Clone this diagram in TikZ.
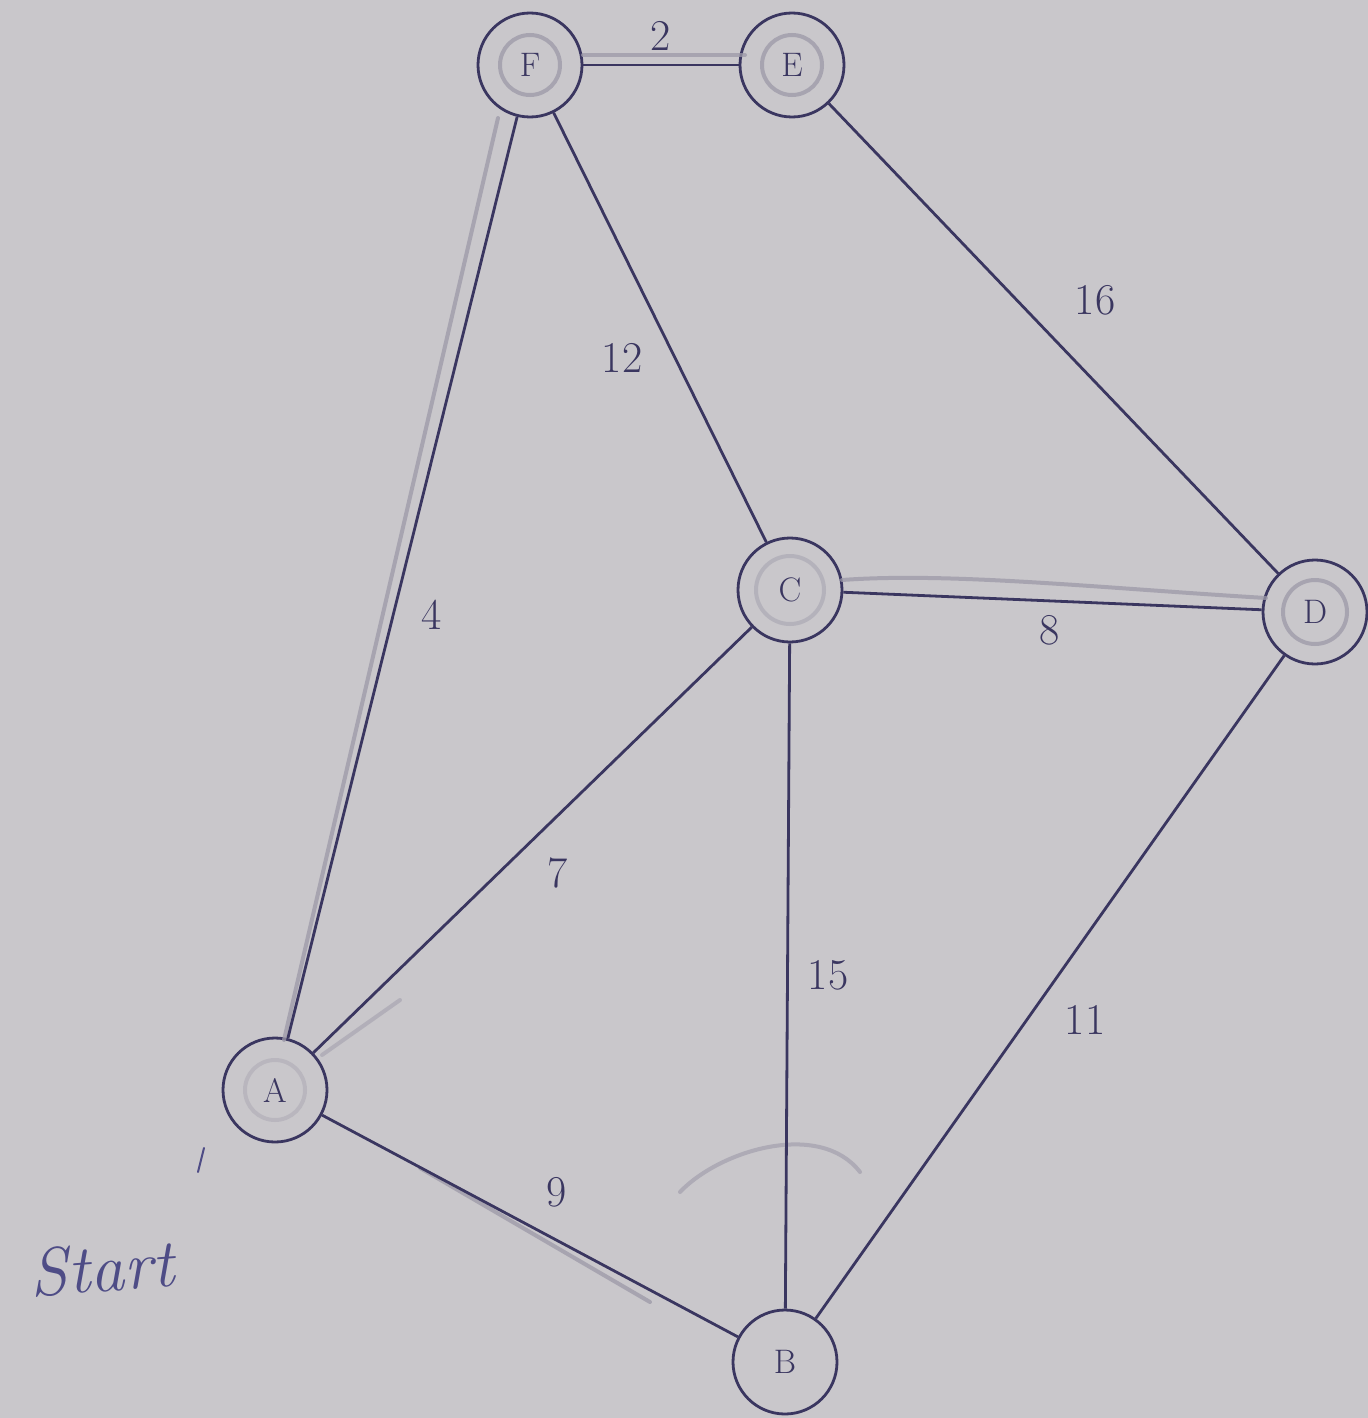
\documentclass[tikz,border=0pt]{standalone}
\usepackage{fontspec}
\begin{document}
\begin{tikzpicture}[x=0.5pt,y=-0.5pt,
  ink/.style={draw=inkc,line width=1.4pt},
  vertex/.style={circle,draw=inkc,line width=1.4pt,minimum size=52pt,inner sep=0pt,font=\fontsize{17}{20}\selectfont,text=inkc},
  wlabel/.style={font=\fontsize{22}{26}\selectfont,text=inkc},
  pencil/.style={draw=pencilc,line width=2pt,line cap=round,draw opacity=0.75},
]
\definecolor{bgc}{HTML}{C9C7CB}
\definecolor{inkc}{HTML}{3A3660}
\definecolor{pencilc}{HTML}{9C99A8}
\definecolor{penc}{HTML}{4E4C86}
\fill[bgc] (0,0) rectangle (1368,1418);
\useasboundingbox (0,0) rectangle (1368,1418);

% nodes
\node[vertex] (F) at (530,65) {F};
\node[vertex] (E) at (792,65) {E};
\node[vertex] (C) at (790,590) {C};
\node[vertex] (D) at (1315,612) {D};
\node[vertex] (A) at (275,1090) {A};
\node[vertex] (B) at (785,1362) {B};

% pencil marks
\draw[pencil] (F.center) circle[radius=30];
\draw[pencil] (E.center) circle[radius=30];
\draw[pencil] (D.center) circle[radius=32];
\draw[pencil,draw opacity=0.45] (C.center) circle[radius=34];
\draw[pencil,draw opacity=0.35] (A.center) circle[radius=30];
\draw[pencil] (498,118) -- (284,1040);
\draw[pencil] (583,55) -- (745,55);
\draw[pencil] (842,580) .. controls (950,572) and (1100,588) .. (1266,598);
\draw[pencil] (420,1168) -- (650,1302);
\draw[pencil,draw opacity=0.6] (680,1192) .. controls (720,1150) and (820,1120) .. (860,1172);
\draw[pencil,draw opacity=0.5] (322,1055) -- (400,1000);

% edges
\draw[ink] (F) -- (E) node[wlabel,midway,above=3pt] {2};
\draw[ink] (E) -- (D);
\draw[ink] (F) -- (C);
\draw[ink] (F) -- (A);
\draw[ink] (C) -- (D);
\draw[ink] (A) -- (C);
\draw[ink] (C) -- (B);
\draw[ink] (D) -- (B);
\draw[ink] (A) -- (B);

% weights
\node[wlabel] (w16) at (1095,300) {16};
\node[wlabel] (w12) at (622,358) {12};
\node[wlabel] (w4) at (432,615) {4};
\node[wlabel] (w8) at (1050,630) {8};
\node[wlabel] (w7) at (558,873) {7};
\node[wlabel] (w15) at (828,975) {15};
\node[wlabel] (w11) at (1085,1020) {11};
\node[wlabel] (w9) at (557,1192) {9};

% handwritten note
\node[text=penc,font=\fontsize{34}{38}\selectfont\itshape,rotate=4] (start) at (102,1268) {Start};
\draw[draw=penc,line width=1pt,line cap=round] (204,1148) -- (198,1172);
\end{tikzpicture}
\end{document}
